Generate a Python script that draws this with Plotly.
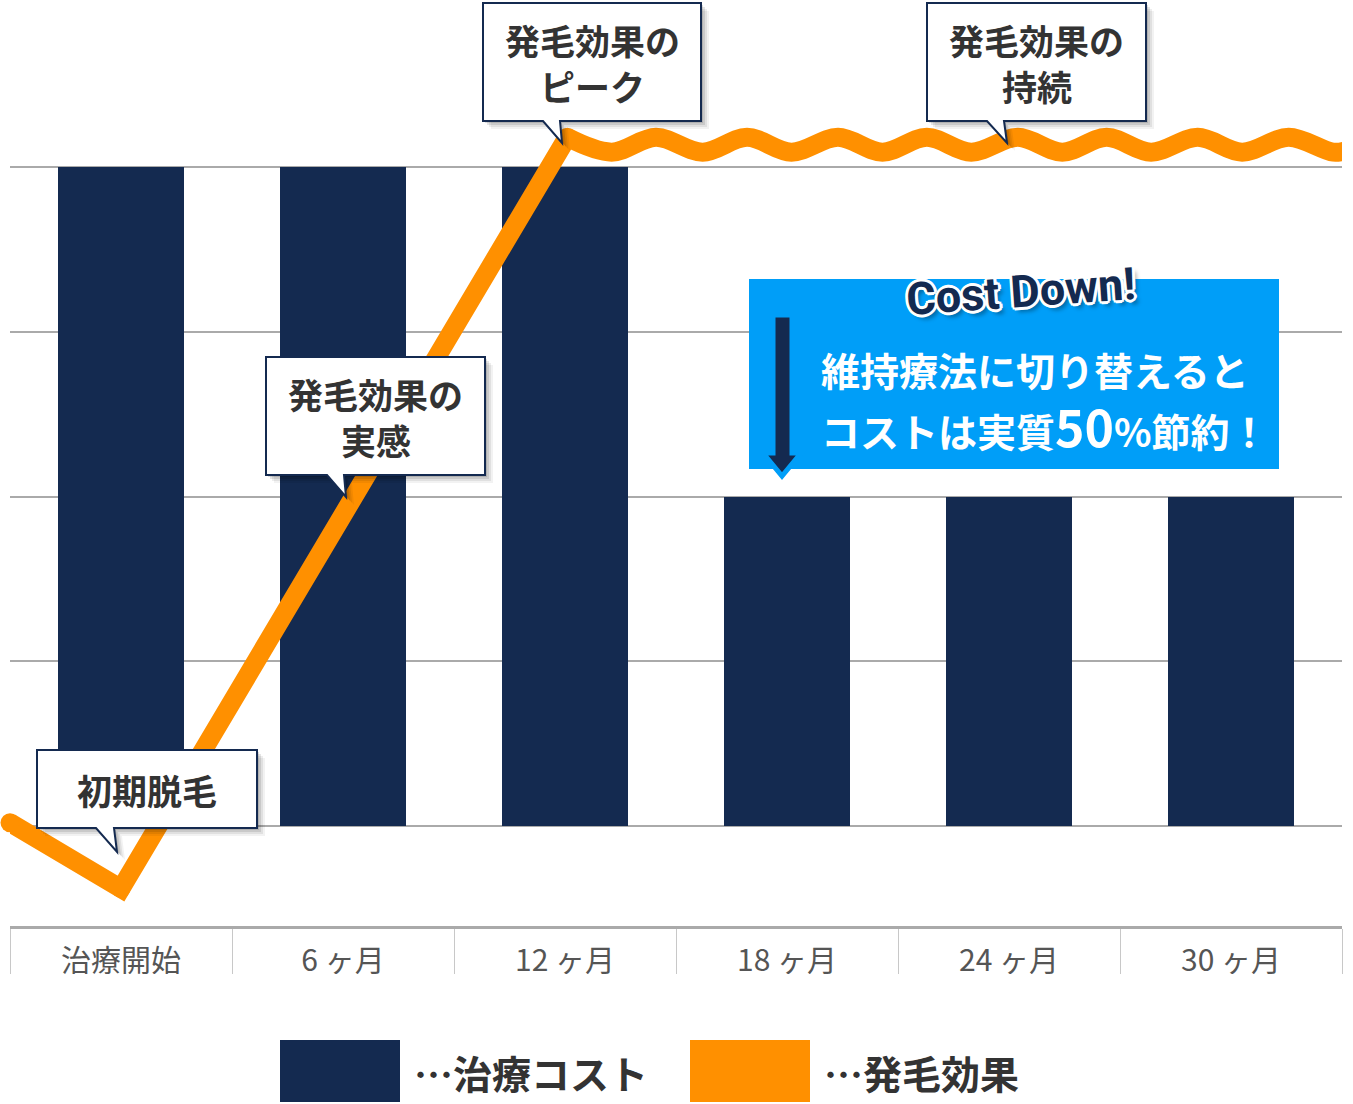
import plotly.graph_objects as go

# ---------------- data ----------------
categories = ["治療開始", "6 ヶ月", "12 ヶ月", "18 ヶ月", "24 ヶ月", "30 ヶ月"]
cat_pos = [0, 1, 2, 3, 4, 5]
cost = [4, 4, 4, 2, 2, 2]                      # 治療コスト (grid units)

# 発毛効果 line: initial shedding dip, rise to peak
effect_rise_x = [-0.5, 0.0, 2.01]
effect_rise_y = [0.02, -0.38, 4.18]
# 発毛効果 plateau (wavy, sustained)
effect_wave_x = [2.01, 2.21, 2.41, 2.62, 2.82, 3.02, 3.23, 3.43, 3.63, 3.83,
                 4.04, 4.24, 4.44, 4.64, 4.85, 5.05, 5.26, 5.46, 5.52]
effect_wave_y = [4.18, 4.09, 4.18, 4.09, 4.18, 4.09, 4.18, 4.09, 4.18, 4.09,
                 4.18, 4.09, 4.18, 4.09, 4.18, 4.09, 4.18, 4.09, 4.10]

legend_labels = ["…治療コスト", "…発毛効果"]
callout_texts = ["初期脱毛", "発毛効果の<br>実感", "発毛効果の<br>ピーク", "発毛効果の<br>持続"]
note_line1 = "維持療法に切り替えると"
note_line2 = "コストは実質<span style='font-size:50px'>50</span>%節約！"
note_title = "Cost Down!"

NAVY = "#142A50"
ORANGE = "#FF9000"
BLUE = "#009EF8"
GRID = "#AAAAAA"
JP = "Noto Sans CJK JP"

# ---------------- layout geometry ----------------
W, H = 1353, 1104
ML, MR, MT, MB = 10, 11, 0, 178
PLOT_W = W - ML - MR
PLOT_H = H - MT - MB
X_RANGE = [-0.5, 5.5]
Y0 = -0.607
Y_SCALE = 164.75
Y_RANGE = [Y0, Y0 + PLOT_H / Y_SCALE]


def X(px):
    return X_RANGE[0] + (px - ML) / PLOT_W * (X_RANGE[1] - X_RANGE[0])


def Y(py):
    return Y0 + (H - MB - py) / Y_SCALE


def PX(px):
    return (px - ML) / PLOT_W


def PY(py):
    return (H - MB - py) / PLOT_H


fig = go.Figure()

fig.add_trace(go.Bar(
    x=cat_pos, y=cost, width=0.572,
    marker=dict(color=NAVY, line=dict(width=0)),
    hoverinfo="skip", showlegend=False,
))

fig.add_trace(go.Scatter(
    x=effect_rise_x, y=effect_rise_y, mode="lines+markers",
    line=dict(color=ORANGE, width=19),
    marker=dict(color=ORANGE, size=19, line=dict(width=0)),
    cliponaxis=False, hoverinfo="skip", showlegend=False,
))

fig.add_trace(go.Scatter(
    x=effect_wave_x, y=effect_wave_y, mode="lines+markers",
    line=dict(color=ORANGE, width=19, shape="spline", smoothing=1.0),
    marker=dict(color=ORANGE, size=[0] * (len(effect_wave_x) - 1) + [19], line=dict(width=0)),
    cliponaxis=False, hoverinfo="skip", showlegend=False,
))

shapes = []
annotations = []

# ---- callouts ----
callouts = [
    # box x0, y0, x1, y1, tail base left, right, tip x, tip y
    (37, 750, 257, 828, 96, 114, 117, 852),
    (266, 357, 485, 475, 327, 344, 346, 497),
    (483, 3, 701, 121, 543, 560, 562, 143),
    (927, 3, 1146, 121, 987, 1004, 1007, 143),
]


def callout_path(x0, y0, x1, y1, bl, br, tx, ty, dx=0, dy=0):
    pts = [(x0, y0), (x1, y0), (x1, y1), (br, y1), (tx, ty), (bl, y1), (x0, y1)]
    return "M " + " L ".join(f"{X(px + dx):.5f},{Y(py + dy):.5f}" for px, py in pts) + " Z"


for i, (x0, y0, x1, y1, bl, br, tx, ty) in enumerate(callouts):
    for off, op in [(8, 0.05), (6, 0.07), (4, 0.10), (2, 0.12)]:
        shapes.append(dict(type="path", xref="x", yref="y", layer="above",
                           path=callout_path(x0, y0, x1, y1, bl, br, tx, ty, off, off),
                           fillcolor=f"rgba(0,0,0,{op})", line=dict(width=0)))
    shapes.append(dict(type="path", xref="x", yref="y", layer="above",
                       path=callout_path(x0, y0, x1, y1, bl, br, tx, ty),
                       fillcolor="white", line=dict(color=NAVY, width=2)))
    lines = callout_texts[i].split("<br>")
    cy = (y0 + y1) / 2
    offs = [0] if len(lines) == 1 else [-23, 23]
    for ln, o in zip(lines, offs):
        annotations.append(dict(
            x=X((x0 + x1) / 2), y=Y(cy + o), xref="x", yref="y",
            text=f"<b>{ln}</b>", showarrow=False,
            xanchor="center", yanchor="middle", align="center",
            font=dict(family=JP, size=35, color="#333333"),
        ))

# ---- Cost Down box ----
shapes.append(dict(type="rect", xref="x", yref="y", layer="above",
                   x0=X(749), x1=X(1279), y0=Y(469), y1=Y(279),
                   fillcolor=BLUE, line=dict(width=0)))
arrow_pts = [(773, 315), (792, 315), (792, 453), (801, 453), (782, 476), (763, 453), (773, 453)]
shapes.append(dict(type="path", xref="x", yref="y", layer="above",
                   path="M " + " L ".join(f"{X(a):.5f},{Y(b):.5f}" for a, b in arrow_pts) + " Z",
                   fillcolor=NAVY, line=dict(color=BLUE, width=5)))

annotations.append(dict(
    x=X(1035), y=Y(369), xref="x", yref="y", text=f"<b>{note_line1}</b>",
    showarrow=False, xanchor="center", yanchor="middle",
    font=dict(family=JP, size=39, color="white"),
))
annotations.append(dict(
    x=X(1045), y=Y(425), xref="x", yref="y", text=f"<b>{note_line2}</b>",
    showarrow=False, xanchor="center", yanchor="middle",
    font=dict(family=JP, size=39, color="white"),
))
outline = ", ".join(f"{a}px {b}px 0 #fff" for a, b in
                    [(3, 0), (-3, 0), (0, 3), (0, -3), (2, 2), (-2, -2), (2, -2), (-2, 2)])
annotations.append(dict(
    x=X(1020), y=Y(291), xref="x", yref="y", text=f"<b>{note_title}</b>",
    showarrow=False, xanchor="center", yanchor="middle", textangle=-4,
    font=dict(family="Roboto", size=45, color=NAVY, weight=900,
              shadow=outline + ", 4px 5px 4px rgba(0,0,0,0.35)"),
))

# ---- legend (manual, large swatches) ----
shapes.append(dict(type="rect", xref="paper", yref="paper", layer="above",
                   x0=PX(280), x1=PX(400), y0=PY(1102), y1=PY(1040),
                   fillcolor=NAVY, line=dict(width=0)))
shapes.append(dict(type="rect", xref="paper", yref="paper", layer="above",
                   x0=PX(690), x1=PX(810), y0=PY(1102), y1=PY(1040),
                   fillcolor=ORANGE, line=dict(width=0)))
annotations.append(dict(x=PX(412), y=PY(1072), xref="paper", yref="paper",
                        text=f"<b>{legend_labels[0]}</b>", showarrow=False,
                        xanchor="left", yanchor="middle",
                        font=dict(family=JP, size=39, color="#333333")))
annotations.append(dict(x=PX(822), y=PY(1072), xref="paper", yref="paper",
                        text=f"<b>{legend_labels[1]}</b>", showarrow=False,
                        xanchor="left", yanchor="middle",
                        font=dict(family=JP, size=39, color="#333333")))

# clip of tick label area (as in reference)
shapes.append(dict(type="rect", xref="paper", yref="paper", layer="above",
                   x0=PX(0), x1=PX(W), y0=PY(1000), y1=PY(974),
                   fillcolor="white", line=dict(width=0)))

fig.update_layout(
    width=W, height=H,
    margin=dict(l=ML, r=MR, t=MT, b=MB),
    paper_bgcolor="white", plot_bgcolor="white",
    bargap=0, showlegend=False,
    shapes=shapes, annotations=annotations,
    xaxis=dict(range=X_RANGE, tickmode="array", tickvals=cat_pos, ticktext=categories,
               ticks="", showgrid=False, zeroline=False,
               showline=True, linecolor=GRID, linewidth=3,
               tickfont=dict(family=JP, size=30, color="#555555"),
               ticklabelstandoff=6,
               minor=dict(tickmode="array", tickvals=[-0.5, 0.5, 1.5, 2.5, 3.5, 4.5, 5.5],
                          ticks="outside", ticklen=47, tickwidth=1.3, tickcolor="#C8C8C8",
                          showgrid=False),
               fixedrange=True),
    yaxis=dict(range=Y_RANGE, tickmode="array", tickvals=[0, 1, 2, 3, 4],
               showticklabels=False, ticks="", showgrid=True, gridcolor=GRID, gridwidth=2,
               zeroline=False, showline=False, fixedrange=True),
)

fig.write_html(
    "out.html",
    config={"displayModeBar": False},
    post_script="document.body.style.margin='0px';document.body.style.overflow='hidden';",
)
